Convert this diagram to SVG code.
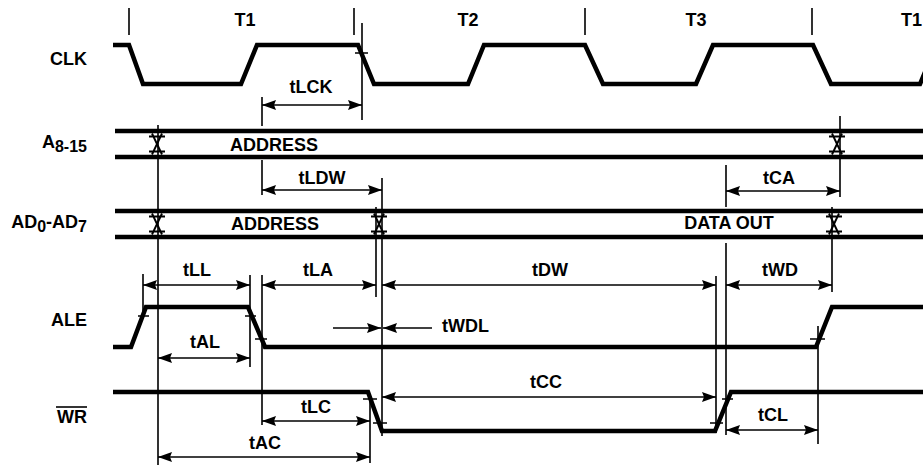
<svg xmlns="http://www.w3.org/2000/svg" width="923" height="468" viewBox="0 0 923 468">
<defs>
<style>
.w{fill:none;stroke:#000;stroke-width:4.5;stroke-linejoin:miter}
.r{fill:none;stroke:#000;stroke-width:1.6}
.a{fill:none;stroke:#000;stroke-width:1.6;marker-start:url(#ah);marker-end:url(#ah)}
.e{fill:none;stroke:#000;stroke-width:1.6;marker-end:url(#ah)}
text{font-family:"Liberation Sans",Arial,sans-serif;font-weight:bold;font-size:18px;fill:#000}
.m{text-anchor:middle}
.l{text-anchor:end}
.s{font-size:16px}
</style>
<marker id="ah" markerUnits="userSpaceOnUse" markerWidth="16" markerHeight="12" refX="14" refY="5" orient="auto-start-reverse">
<path d="M0,0 L14,5 L0,10 L2,5 z" fill="#000"/>
</marker>
<symbol id="x" overflow="visible">
<path d="M-8,-7.5 H8 M-8,7.5 H8 M-5,-10.5 L5,10.5 M5,-10.5 L-5,10.5" fill="none" stroke="#000" stroke-width="1.9"/>
</symbol>
</defs>
<rect width="923" height="468" fill="#fff"/>

<g id="labels">
<text class="l" x="87" y="65">CLK</text>
<text class="l" x="87" y="148">A<tspan class="s" dy="4">8-15</tspan></text>
<text class="l" x="87" y="228">AD<tspan class="s" dy="4">0</tspan><tspan dy="-4">-AD</tspan><tspan class="s" dy="4">7</tspan></text>
<text class="l" x="87" y="326">ALE</text>
<text class="l" x="87" y="423">WR</text>
<line class="r" x1="56" y1="407" x2="87" y2="407"/>
<text class="m" x="245" y="26">T1</text>
<text class="m" x="468" y="26">T2</text>
<text class="m" x="696" y="26">T3</text>
<text x="901" y="26">T1</text>
</g>

<g id="waveforms">
<path id="clk" class="w" d="M113,45 L129,45 L143,84 L241,84 L257,45 L358,45 L374,84 L468,84 L484,45 L585,45 L603,84 L696,84 L713,45 L813,45 L831,84 L920,84 L928,65"/>
<g id="a815">
<line class="w" x1="115" y1="131" x2="923" y2="131"/>
<line class="w" x1="115" y1="157" x2="923" y2="157"/>
<use href="#x" x="157" y="144"/>
<use href="#x" x="837" y="144"/>
<text class="m" x="274" y="151">ADDRESS</text>
</g>
<g id="ad07">
<line class="w" x1="115" y1="211" x2="923" y2="211"/>
<line class="w" x1="115" y1="237" x2="923" y2="237"/>
<use href="#x" x="157" y="224"/>
<use href="#x" x="379" y="224"/>
<use href="#x" x="834" y="224"/>
<text class="m" x="275" y="230">ADDRESS</text>
<text class="m" x="729" y="229">DATA OUT</text>
</g>
<path id="ale" class="w" d="M113,347 L131,347 L146,307 L248,307 L265,347 L816,347 L832,307 L923,307"/>
<path id="wr" class="w" d="M113,392 L368,392 L382,431 L715,431 L731,392 L923,392"/>
</g>

<g id="reference-lines">
<path class="r" d="M129,8 V35 M354,8 V35 M585,8 V35 M812,8 V35"/>
<path class="r" d="M262,97 V126 M262,160 V195 M262,275 V425"/>
<path class="r" d="M362,23 V120 M158,125 V465 M143,274 V317 M250,275 V367"/>
<path class="r" d="M376,207 V297 M382,178 V436 M716,276 V433"/>
<path class="r" d="M726,165 V207 M726,243 V435 M832,207 V292 M840,116 V197 M818,326 V444 M370,395 V463"/>
<path class="r" d="M355,53 H368 M138,316 H149 M245,316 H256 M255,339 H267 M810,339 H825 M363,399 H377 M373,423 H387 M710,423 H723 M722,399 H733"/>
</g>

<g id="connectors">
<line class="a" x1="262" y1="105" x2="362" y2="105"/>
<line class="a" x1="262" y1="190" x2="382" y2="190"/>
<line class="a" x1="726" y1="191" x2="840" y2="191"/>
<line class="a" x1="143" y1="285" x2="250" y2="285"/>
<line class="a" x1="262" y1="285" x2="376" y2="285"/>
<line class="a" x1="382" y1="285" x2="716" y2="285"/>
<line class="a" x1="726" y1="285" x2="832" y2="285"/>
<line class="a" x1="158" y1="358" x2="250" y2="358"/>
<line class="e" x1="333" y1="328" x2="381" y2="328"/>
<line class="e" x1="432" y1="328" x2="383" y2="328"/>
<line class="a" x1="262" y1="421" x2="370" y2="421"/>
<line class="a" x1="158" y1="457" x2="370" y2="457"/>
<line class="a" x1="382" y1="397" x2="716" y2="397"/>
<line class="a" x1="726" y1="430" x2="818" y2="430"/>
</g>

<g id="timing-labels">
<text class="m" x="311" y="93">tLCK</text>
<text class="m" x="322" y="184">tLDW</text>
<text class="m" x="779" y="184">tCA</text>
<text class="m" x="197" y="276">tLL</text>
<text class="m" x="318" y="276">tLA</text>
<text class="m" x="550" y="276">tDW</text>
<text class="m" x="780" y="276">tWD</text>
<text x="442" y="332">tWDL</text>
<text class="m" x="205" y="348">tAL</text>
<text class="m" x="546" y="388">tCC</text>
<text class="m" x="316" y="413">tLC</text>
<text class="m" x="773" y="421">tCL</text>
<text class="m" x="265" y="449">tAC</text>
</g>
</svg>
